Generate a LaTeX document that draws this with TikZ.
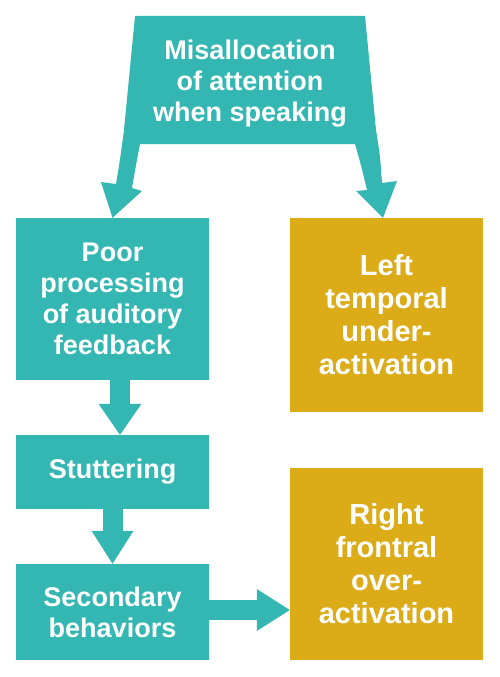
\documentclass[tikz,border=0pt]{standalone}
\usepackage{fontspec}
\setmainfont{Liberation Sans}
\usetikzlibrary{calc}
\definecolor{tealbox}{RGB}{52,183,178}
\definecolor{goldbox}{RGB}{220,171,24}

\begin{document}
\begin{tikzpicture}[x=1pt,y=-1pt]
\tikzstyle{every node}+=[inner sep=0pt]
\tikzstyle{box}=[fill=tealbox, text=white, minimum width=193pt, align=center, font=\fontsize{27}{31}\selectfont\bfseries]
\tikzstyle{goldbox}=[box, fill=goldbox, font=\fontsize{29}{33}\selectfont\bfseries]
\tikzstyle{shaft}=[draw=tealbox, line width=20pt]
\useasboundingbox (0,0) rectangle (500,677);

\node [box, minimum height=162pt] (poor) at (112.5,299) {Poor\\processing\\of auditory\\feedback};
\node [box, minimum height=74pt] (stut) at (112.5,472) {Stuttering};
\node [box, minimum height=96pt] (sec) at (112.5,612) {Secondary\\behaviors};
\node [goldbox, minimum height=194pt] (ltemp) at (386.5,315) {Left\\temporal\\under-\\activation};
\node [goldbox, minimum height=192pt] (rfront) at (386.5,564) {Right\\frontral\\over-\\activation};

% top block with its two legs
\fill [tealbox] (135,16) -- (365,16) -- (376,130)
  .. controls (380,155) .. (382,183) -- (397,181) -- ([xshift=-3.5pt]ltemp.north) -- (356,191) -- (367,190)
  .. controls (361,165) .. (355,144) -- (140,144)
  .. controls (136,165) .. (132,188) -- (142,191) -- (poor.north) -- (101,182) -- (116,184)
  .. controls (120,160) .. (124,130) -- cycle;
\node [box, fill=none, minimum width=0pt] (mis) at (250,84) {Misallocation\\of attention\\when speaking};

% down arrows
\draw [shaft] ([xshift=7.5pt]poor.south) -- ([xshift=7.5pt,yshift=31pt]stut.north);
\fill [tealbox] ([xshift=7.5pt]stut.north) -- ++(-21.5,-31) -- ++(43,0) -- cycle;
\draw [shaft] (stut.south) -- ([yshift=33pt]sec.north);
\fill [tealbox] (sec.north) -- ++(-21,-33) -- ++(42,0) -- cycle;

% side arrow
\coordinate (hz) at ([yshift=2pt]sec.east);
\draw [shaft] (hz) -- ++(49,0);
\fill [tealbox] (hz -| rfront.west) -- ++(-33,-21) -- ++(0,42) -- cycle;

\end{tikzpicture}
\end{document}
